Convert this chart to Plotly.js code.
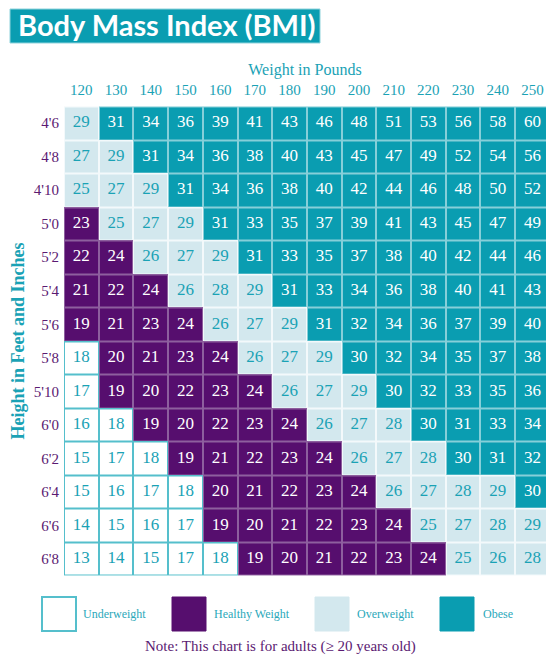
<!DOCTYPE html>
<html>
<head>
<meta charset="utf-8">
<script src="https://cdn.plot.ly/plotly-3.0.1.min.js"></script>
<style>html,body{margin:0;padding:0;background:#fff;}#chart{width:546px;height:658px;}</style>
</head>
<body>
<div id="chart"></div>
<script>
// ---- data ----
const weights = [120,130,140,150,160,170,180,190,200,210,220,230,240,250];
const heights = ["4'6","4'8","4'10","5'0","5'2","5'4","5'6","5'8","5'10","6'0","6'2","6'4","6'6","6'8"];
const bmi_4_6  = [29,31,34,36,39,41,43,46,48,51,53,56,58,60];
const bmi_4_8  = [27,29,31,34,36,38,40,43,45,47,49,52,54,56];
const bmi_4_10 = [25,27,29,31,34,36,38,40,42,44,46,48,50,52];
const bmi_5_0  = [23,25,27,29,31,33,35,37,39,41,43,45,47,49];
const bmi_5_2  = [22,24,26,27,29,31,33,35,37,38,40,42,44,46];
const bmi_5_4  = [21,22,24,26,28,29,31,33,34,36,38,40,41,43];
const bmi_5_6  = [19,21,23,24,26,27,29,31,32,34,36,37,39,40];
const bmi_5_8  = [18,20,21,23,24,26,27,29,30,32,34,35,37,38];
const bmi_5_10 = [17,19,20,22,23,24,26,27,29,30,32,33,35,36];
const bmi_6_0  = [16,18,19,20,22,23,24,26,27,28,30,31,33,34];
const bmi_6_2  = [15,17,18,19,21,22,23,24,26,27,28,30,31,32];
const bmi_6_4  = [15,16,17,18,20,21,22,23,24,26,27,28,29,30];
const bmi_6_6  = [14,15,16,17,19,20,21,22,23,24,25,27,28,29];
const bmi_6_8  = [13,14,15,17,18,19,20,21,22,23,24,25,26,28];
const bmiRows = [bmi_4_6,bmi_4_8,bmi_4_10,bmi_5_0,bmi_5_2,bmi_5_4,bmi_5_6,bmi_5_8,bmi_5_10,bmi_6_0,bmi_6_2,bmi_6_4,bmi_6_6,bmi_6_8];
const categories = ["Underweight","Healthy Weight","Overweight","Obese"];
const limits = [18.5, 25, 30];

// ---- styles ----
const TEAL = "#0a9db1";
const PURPLE = "#560e6e";
const LIGHT = "#d3e8ee";
const fillColors = ["#ffffff", PURPLE, LIGHT, TEAL];
const lineColors = ["#55bfcc", "#8d5f9e", "#f3f9fb", "#86cfd9"];
const textColors = ["#1aa2b5", "#ffffff", "#1aa2b5", "#ffffff"];
const SERIF = "Liberation Serif, Times New Roman, serif";

function cat(v){ let c = 0; limits.forEach(l => { if (v >= l) c++; }); return c; }
const catZ = bmiRows.map(r => r.map(cat));

function discreteScale(cols){
  const n = cols.length, s = [];
  cols.forEach((c,i) => { s.push([i/n, c]); s.push([(i+1)/n, c]); });
  return s;
}

const tx = [], ty = [], tt = [], tc = [];
bmiRows.forEach((r,i) => r.forEach((v,j) => {
  tx.push(weights[j]); ty.push(heights[i]); tt.push(String(v)); tc.push(textColors[cat(v)]);
}));

const traces = [
  {type:'heatmap', x:weights, y:heights, z:catZ, zmin:-0.5, zmax:3.5,
   colorscale:discreteScale(lineColors), showscale:false, hoverinfo:'skip'},
  {type:'heatmap', x:weights, y:heights, z:catZ, zmin:-0.5, zmax:3.5, xgap:2, ygap:2,
   colorscale:discreteScale(fillColors), showscale:false, hoverinfo:'skip'},
  {type:'scatter', mode:'text', x:tx, y:ty, text:tt, textposition:'middle center',
   textfont:{family:SERIF, size:17, color:tc}, hoverinfo:'skip', showlegend:false, cliponaxis:true}
];

// ---- layout helpers (pixel -> paper) ----
const L = 64, T = 99, W = 546, H = 658, B = 75;
const pw = W - L, ph = H - T - B;
const px = v => (v - L) / pw;
const py = v => (H - B - v) / ph;

const legendBoxX = [42, 172, 315, 440];
const legendLabelX = [81, 212, 355, 481];
const shapes = [
  {type:'rect', xref:'paper', yref:'paper', x0:px(10), x1:px(320), y0:py(9), y1:py(43),
   fillcolor:TEAL, line:{color:"#8fd3dc", width:1}, layer:'below'}
];
const annotations = [];
categories.forEach((c,i) => {
  shapes.push({type:'rect', xref:'paper', yref:'paper', x0:px(legendBoxX[i]), x1:px(legendBoxX[i]+34),
    y0:py(597), y1:py(631), fillcolor:fillColors[i],
    line:{color: i===0 ? "#55bfcc" : fillColors[i], width: i===0 ? 2 : 1}});
  annotations.push({xref:'paper', yref:'paper', x:px(legendLabelX[i]), y:py(614), xanchor:'left', yanchor:'middle',
    text:c, showarrow:false, font:{family:SERIF, size:12, color:"#2aa8ba"}});
});
annotations.push({xref:'paper', yref:'paper', x:px(280), y:py(646), xanchor:'center', yanchor:'middle',
  text:"Note: This chart is for adults (≥ 20 years old)", showarrow:false,
  font:{family:SERIF, size:15, color:"#5b1a72"}});

const layout = {
  width:W, height:H,
  margin:{l:L, r:0, t:T, b:B, pad:0},
  paper_bgcolor:'#ffffff', plot_bgcolor:'#ffffff',
  title:{text:"Body Mass Index (BMI)", x:18/W, xanchor:'left', xref:'container',
         y:1-26/H, yanchor:'middle', yref:'container',
         font:{family:"Lato, Open Sans, sans-serif", size:29, color:'#ffffff', weight:'bold'}},
  xaxis:{side:'top', range:[115, 115 + 10*pw/34.7], tickvals:weights, ticktext:weights.map(String),
         showgrid:false, zeroline:false, showline:false, ticks:'', fixedrange:true,
         tickfont:{family:SERIF, size:15, color:"#1aa2b5"},
         title:{text:"Weight in Pounds", standoff:2, font:{family:SERIF, size:16, color:"#1aa2b5"}}},
  yaxis:{type:'category', categoryorder:'array', categoryarray:heights, autorange:'reversed',
         showgrid:false, zeroline:false, showline:false, ticks:'', fixedrange:true,
         tickfont:{family:SERIF, size:15, color:"#5b1a72"}, ticklabelstandoff:4,
         title:{text:"Height in Feet and Inches", standoff:4, font:{family:SERIF, size:18, color:"#1aa2b5", weight:'bold'}}},
  shapes:shapes, annotations:annotations, showlegend:false
};
Plotly.newPlot('chart', traces, layout, {staticPlot:true, displayModeBar:false});
</script>
</body>
</html>
